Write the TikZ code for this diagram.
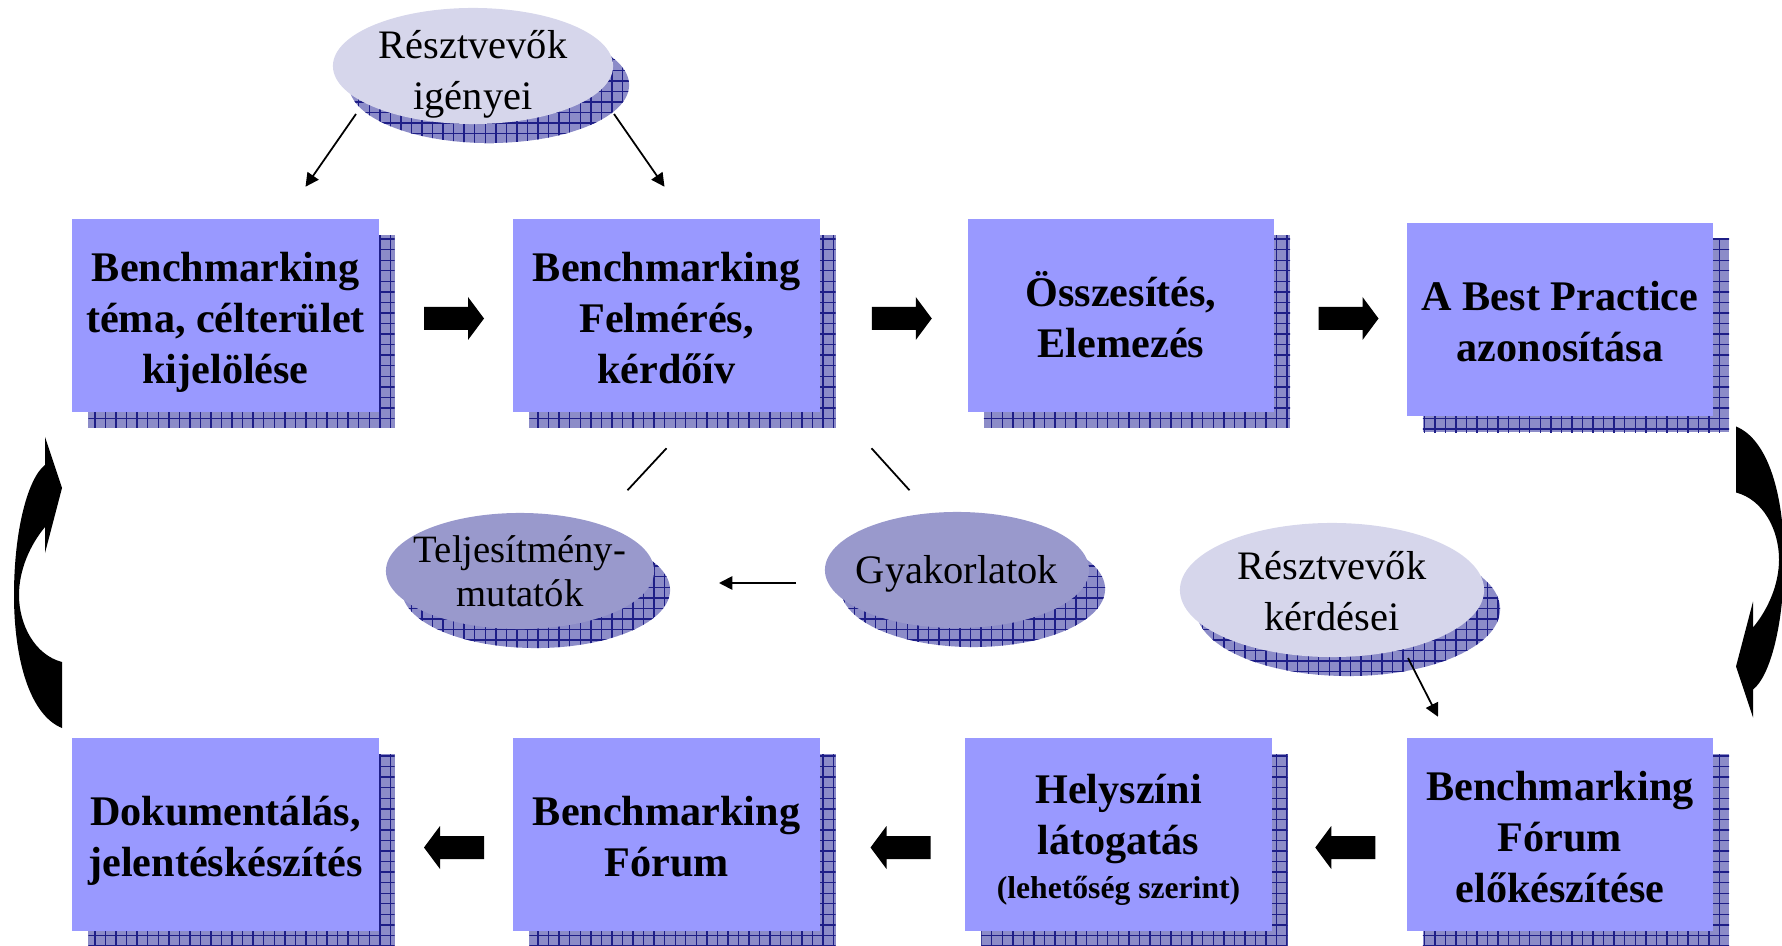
\documentclass[tikz,border=0pt]{standalone}
\usepackage{fontspec}
\setmainfont{Liberation Serif}
\usetikzlibrary{shapes.geometric,patterns,shadows,calc,arrows.meta}
\definecolor{boxfill}{RGB}{153,153,255}
\definecolor{shbg}{RGB}{140,140,200}
\definecolor{shline}{RGB}{30,30,135}
\definecolor{darkell}{RGB}{153,153,204}
\definecolor{lightell}{RGB}{214,214,235}
\newcommand\topstrut{\rule{0pt}{13pt}}
\newcommand\botstrut{\rule[-3.5pt]{0pt}{3.5pt}}
\tikzset{
  boxshadow/.style={general shadow={shadow xshift=0.16cm,shadow yshift=-0.16cm,fill=shbg},
                    general shadow={shadow xshift=0.16cm,shadow yshift=-0.16cm,pattern=grid,pattern color=shline}},
  ellshadow/.style={general shadow={shadow xshift=0.16cm,shadow yshift=-0.19cm,fill=shbg},
                    general shadow={shadow xshift=0.16cm,shadow yshift=-0.19cm,pattern=grid,pattern color=shline}},
  stagebox/.style={rectangle, fill=boxfill, minimum width=3.06cm, minimum height=1.92cm, inner sep=0pt,
                   align=center, font=\bfseries\fontsize{12}{14.5}\selectfont, boxshadow},
  lightoval/.style={ellipse, fill=lightell, inner sep=0pt, ellshadow},
  darkoval/.style={ellipse, fill=darkell, inner sep=0pt, ellshadow},
  ovaltext/.style={align=center, font=\fontsize{11.5}{14.5}\selectfont, inner sep=0pt},
  ovaltextb/.style={align=center, font=\fontsize{11}{12.5}\selectfont, inner sep=0pt},
  conn/.style={line width=0.5pt},
  connarrow/.style={line width=0.5pt, -{Triangle[length=3.8pt,width=3.8pt]}},
  pics/blockarr/.style={code={
    \fill (-30,-11.5) -- (14,-11.5) -- (14,-21.5) -- (30,0) -- (14,21.5) -- (14,11.5) -- (-30,11.5) -- cycle;}},
  pics/bentarrow/.style={code={
    \fill (45,437) -- (62,488) -- (45,553) -- (45,527)
      .. controls (30,545) and (19,570) .. (19,595)
      .. controls (19,625) and (35,655) .. (62,662)
      -- (62,728)
      .. controls (30,715) and (14,660) .. (14,595)
      .. controls (14,530) and (28,478) .. (45,465)
      -- cycle;}}
}
\begin{document}
\begin{tikzpicture}[x=0.01cm,y=-0.01cm]
\useasboundingbox (0,0) rectangle (1782,946);

% stage boxes
\node[stagebox] (b1) at (225.5,315.5) {\topstrut Benchmarking\\téma, célterület\\kijelölése\botstrut};
\node[stagebox] (b2) at (666.5,315.5) {\topstrut Benchmarking\\Felmérés,\\kérdőív\botstrut};
\node[stagebox] (b3) at (1121,315.5) {\topstrut Összesítés,\\Elemezés\botstrut};
\node[stagebox, minimum height=1.93cm] (b4) at (1560,319.5) {\topstrut A Best Practice\\azonosítása\botstrut};
\node[stagebox] (b5) at (225.5,834.5) {\topstrut Dokumentálás,\\jelentéskészítés\botstrut};
\node[stagebox] (b6) at (666.5,834.5) {\topstrut Benchmarking\\Fórum\botstrut};
\node[stagebox] (b7) at (1118.5,834.5) {\topstrut Helyszíni\\látogatás\\[-2pt]{\fontsize{9}{11}\selectfont (lehetőség szerint)}\botstrut};
\node[stagebox] (b8) at (1560,834.5) {\topstrut Benchmarking\\Fórum\\előkészítése\botstrut};

% ovals
\node[lightoval, minimum width=2.80cm, minimum height=1.16cm,
      label={[ovaltext, yshift=-0.08cm]center:Résztvevők\\igényei}] (need) at (473,66) {};
\node[lightoval, minimum width=3.04cm, minimum height=1.34cm,
      label={[ovaltext, yshift=-0.01cm]center:Résztvevők\\kérdései}] (quest) at (1332,590) {};
\node[darkoval, minimum width=2.68cm, minimum height=1.16cm,
      label={[ovaltextb]center:Teljesítmény-\\mutatók}] (telj) at (520,571) {};
\node[darkoval, minimum width=2.64cm, minimum height=1.16cm,
      label={[ovaltext, yshift=-0.04cm]center:Gyakorlatok}] (gyak) at (957,570) {};

% block arrows between stages
\pic at ($(b1.east)!0.5!(b2.west)+(8,3)$) {blockarr};
\pic at ($(b2.east)!0.5!(b3.west)+(8,3)$) {blockarr};
\pic at ($(b3.east)!0.5!(b4.west)+(8,1)$) {blockarr};
\pic[xscale=-1] at ($(b8.west)!0.5!(b7.east)+(6,13)$) {blockarr};
\pic[xscale=-1] at ($(b7.west)!0.5!(b6.east)+(8,13)$) {blockarr};
\pic[xscale=-1] at ($(b6.west)!0.5!(b5.east)+(8,13)$) {blockarr};

% bent arrows on the sides
\pic at (0,0) {bentarrow};
\pic[rotate=180] at (1798,1154.5) {bentarrow};

% thin connectors
\coordinate (n1s) at ($(need.center)+(-117,48)$);
\coordinate (n1e) at ($(b1.north)+(80,-32)$);
\coordinate (n2s) at ($(need.center)+(141,48)$);
\coordinate (n2e) at ($(b2.north)+(-2,-32)$);
\draw[connarrow] (n1s) -- (n1e);
\draw[connarrow] (n2s) -- (n2e);

\coordinate (l1s) at ($(b2.south)+(0,36)$);
\coordinate (l1e) at ($(b2.south)+(-39,78)$);
\coordinate (l2s) at ($(b2.south)+(205,36)$);
\coordinate (l2e) at ($(b2.south)+(243,78)$);
\draw[conn] (l1s) -- (l1e);
\draw[conn] (l2s) -- (l2e);

\coordinate (gs) at ($(gyak.center)+(-161,13)$);
\coordinate (ge) at ($(telj.center)+(199,12)$);
\draw[connarrow] (gs) -- (ge);

\coordinate (qs) at ($(quest.center)+(76,68)$);
\coordinate (qe) at ($(b8.north)+(-122,-21)$);
\draw[connarrow] (qs) -- (qe);
\end{tikzpicture}
\end{document}
